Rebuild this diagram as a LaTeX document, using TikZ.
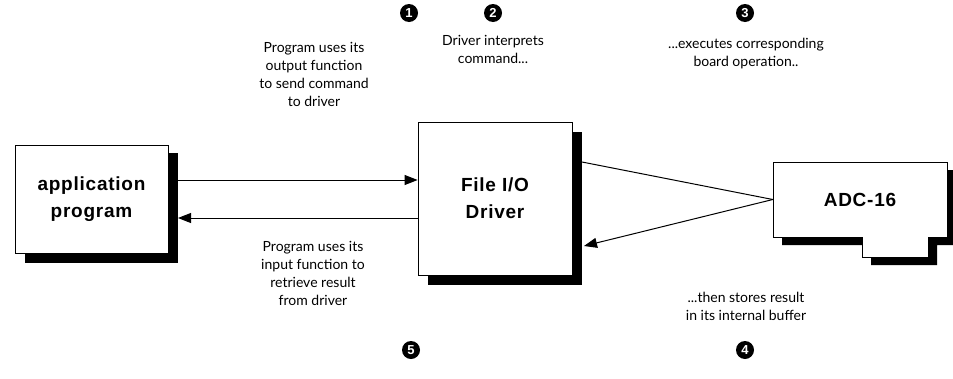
\documentclass[tikz,border=0pt]{standalone}
\usepackage{fontspec}
\setmainfont{Lato}
\newfontfamily\boxfont[LetterSpace=4]{Liberation Sans}
\newfontfamily\numfont{Liberation Sans}
\usetikzlibrary{arrows.meta}
\begin{document}
\begin{tikzpicture}[x=1pt,y=-1pt,
  hand/.style={align=center, font=\fontsize{14}{18}\selectfont},
  boxlbl/.style={align=center, font=\boxfont\bfseries\fontsize{19}{27}\selectfont},
  num/.style={circle, fill=black, text=white, inner sep=0pt, minimum size=18pt, font=\numfont\bfseries\fontsize{13}{13}\selectfont},
  arr/.style={-{Triangle[length=13pt,width=10pt]}, line width=1pt},
  plain/.style={line width=1pt},
  frame/.style={draw, fill=white, line width=0.8pt}
]
\useasboundingbox (0,0) rectangle (953,378);

% application program
\fill (25,153) rectangle (178,263);
\node[frame, minimum width=153pt, minimum height=108pt, boxlbl] (app) at (91.5,199) {application\\program};

% File I/O Driver
\fill (428,132) rectangle (582,285);
\node[frame, minimum width=154pt, minimum height=153pt, boxlbl] (drv) at (495,198.5) {File I/O\\Driver};

% ADC-16 board
\fill[shift={(9,8)}] (773,162) -- (947,162) -- (947,237) -- (928,237) -- (928,257) -- (862,257) -- (862,237) -- (773,237) -- cycle;
\draw[fill=white, line width=0.8pt] (773,162) -- (947,162) -- (947,237) -- (928,237) -- (928,257) -- (862,257) -- (862,237) -- (773,237) -- cycle;
\node[minimum width=174pt, minimum height=75pt, boxlbl, inner sep=0pt] (adc) at (860,199.5) {ADC-16};

% connectors
\coordinate (appshadow) at (178,218);
\coordinate (drvtop) at (582,162);
\coordinate (drvbot) at (584,246);
\draw[arr] (app.east |- 0,180) -- (drv.west |- 0,180);
\draw[arr] (drv.west |- 0,218) -- (appshadow);
\draw[plain] (drvtop) -- (adc.west);
\draw[arr] (adc.west) -- (drvbot);

% step numbers
\node[num] (n1) at (409,13) {1};
\node[num] (n2) at (493,13) {2};
\node[num] (n3) at (745,13) {3};
\node[num] (n4) at (745,350) {4};
\node[num] (n5) at (411,350) {5};

% texts
\node[hand] (t1) at (314,74) {Program uses its\\output function\\to send command\\to driver};
\node[hand] (t2) at (493,49) {Driver interprets\\command...};
\node[hand] (t3) at (746,54) {...executes corresponding\\board operation..};
\node[hand] (t4) at (746,306) {...then stores result\\in its internal buffer};
\node[hand] (t5) at (313,273) {Program uses its\\input function to\\retrieve result\\from driver};
\end{tikzpicture}
\end{document}
